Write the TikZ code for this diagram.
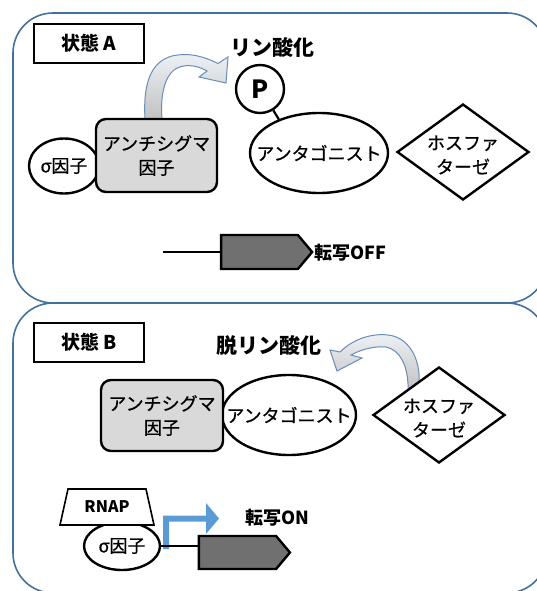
\documentclass[tikz,border=0pt]{standalone}
\usepackage{fontspec}
\setmainfont{Noto Sans CJK JP}
\newfontfamily\jpm{Noto Sans CJK JP}[FakeBold=0.6]
\usetikzlibrary{shapes.geometric,shapes.symbols}
\definecolor{panelc}{HTML}{41719C}
\definecolor{antic}{HTML}{D9D9D9}
\definecolor{genec}{HTML}{707070}
\definecolor{bluea}{HTML}{5B9BD5}
\definecolor{curvc}{HTML}{6A8CB8}
\definecolor{curvtop}{HTML}{EEF2F6}
\definecolor{curvbot}{HTML}{BDBDBD}
\begin{document}
\begin{tikzpicture}[x=1pt,y=-1pt,
  panel/.style={draw=panelc, line width=1.6pt, rounded corners=40pt},
  tag/.style={draw, line width=1.3pt, minimum width=110pt, minimum height=39pt, inner sep=0pt, font=\fontsize{19}{22}\selectfont\bfseries},
  head/.style={inner sep=0pt, font=\fontsize{21}{24}\selectfont\bfseries},
  txt/.style={inner sep=0pt, align=center, font=\fontsize{18}{24}\selectfont\jpm},
  mol/.style={draw, line width=2.4pt, fill=white, inner sep=0pt},
  antibox/.style={mol, rectangle, rounded corners=10pt, fill=antic, minimum width=121pt, minimum height=73pt, align=center, font=\fontsize{18}{24}\selectfont\jpm},
  ell/.style={mol, ellipse},
  phos/.style={mol, diamond, minimum width=132pt, minimum height=96pt},
  gene/.style={draw, line width=2.4pt, fill=genec, signal, signal to=east, signal pointer angle=100, minimum width=91pt, minimum height=34pt, inner sep=0pt},
  curv/.style={draw=curvc, line width=1pt, top color=curvtop, bottom color=curvbot},
  dna/.style={line width=2.2pt},
  note/.style={inner sep=0pt, anchor=west, font=\fontsize{18}{22}\selectfont\bfseries}
]
\useasboundingbox (0,0) rectangle (537,591);
\begin{scope}
\clip (0,0) rectangle (537,591);
% panels
\draw[panel] (13,13) rectangle (547,303);
\draw[panel] (13,303) rectangle (547,593);

% ---------- State A ----------
\node[tag] (tagA) at (89,43.5) {状態 A};
\node[head] (phosA) at (272,47) {リン酸化};

% curved arrow A (anti-sigma -> P)
\path[curv] (145,125) -- (145,119) .. controls (143,85) and (150,62) .. (172,56)
  .. controls (190,52) and (205,57) .. (218,63.5) -- (228,57) -- (226,83) -- (199,77) -- (207,71)
  .. controls (195,64) and (182,64) .. (174,70) .. controls (165,77) and (160,95) .. (162,119) -- (162,125) -- cycle;

\node[ell, minimum width=70pt, minimum height=55pt] (sigA) at (64,166) {};
\node[txt] at (sigA) {σ因子};
\node[antibox] (antiA) at (156.5,155.5) {アンチシグマ\\因子};

\node[mol, circle, minimum size=48pt, font=\fontsize{25}{28}\selectfont\bfseries] (P) at (260,89) {P};
\node[ell, minimum width=138pt, minimum height=80pt] (antgA) at (319,153) {};
\node[txt] at (antgA) {アンタゴニスト};
\draw[line width=2.2pt] (P.-58) -- (antgA.140);

\node[phos] (phA) at (463,152) {};
\node[txt] at ([yshift=-3pt]phA) {ホスファ\\ターゼ};

\coordinate (dnaA) at (163,252);
\node[gene] (gA) at (259.5,252) {};
\draw[dna] (dnaA) -- (gA.west);
\node[note] (offA) at (314,253) {転写OFF};

% ---------- State B ----------
\node[tag] (tagB) at (89,342.5) {状態 B};
\node[head] (dephB) at (269,345) {脱リン酸化};

% curved arrow B (phosphatase -> dephosphorylation)
\path[curv] (419,395) -- (419,384) .. controls (421,358) and (408,337) .. (388,335)
  .. controls (370,333) and (352,340) .. (340,352) -- (330,350) -- (337,371) -- (362,358) -- (351,355)
  .. controls (362,349) and (375,346) .. (386,347) .. controls (400,350) and (407,365) .. (408,384) -- (408,395) -- cycle;

\node[ell, minimum width=134pt, minimum height=80pt] (antgB) at (289,415) {};
\node[txt] at (antgB) {アンタゴニスト};
\node[antibox, minimum width=122pt, minimum height=71pt] (antiB) at (162,415.5) {アンチシグマ\\因子};
\node[phos] (phB) at (439,415) {};
\node[txt] at ([yshift=-3pt]phB) {ホスファ\\ターゼ};

% transcription
\node[ell, minimum width=76pt, minimum height=48pt] (sigB) at (122,546) {};
\node[txt] at (sigB) {σ因子};
\draw[line width=1.6pt, fill=white] (68,489) -- (146,489) -- (154,525) -- (60,525) -- cycle;
\node[inner sep=0pt, font=\fontsize{16}{18}\selectfont\bfseries] (rnap) at (107,507) {RNAP};

\node[gene, minimum height=33pt] (gB) at (237.5,552.5) {};
\fill[bluea] (163,549) -- (163,515.5) -- (206,515.5) -- (206,503) -- (219,518.5) -- (206,534) -- (206,521.5) -- (169,521.5) -- (169,549) -- cycle;
\draw[dna] (sigB.east) -- (sigB.east -| gB.west);
\node[note] (onB) at (245,518) {転写ON};
\end{scope}
\end{tikzpicture}
\end{document}
